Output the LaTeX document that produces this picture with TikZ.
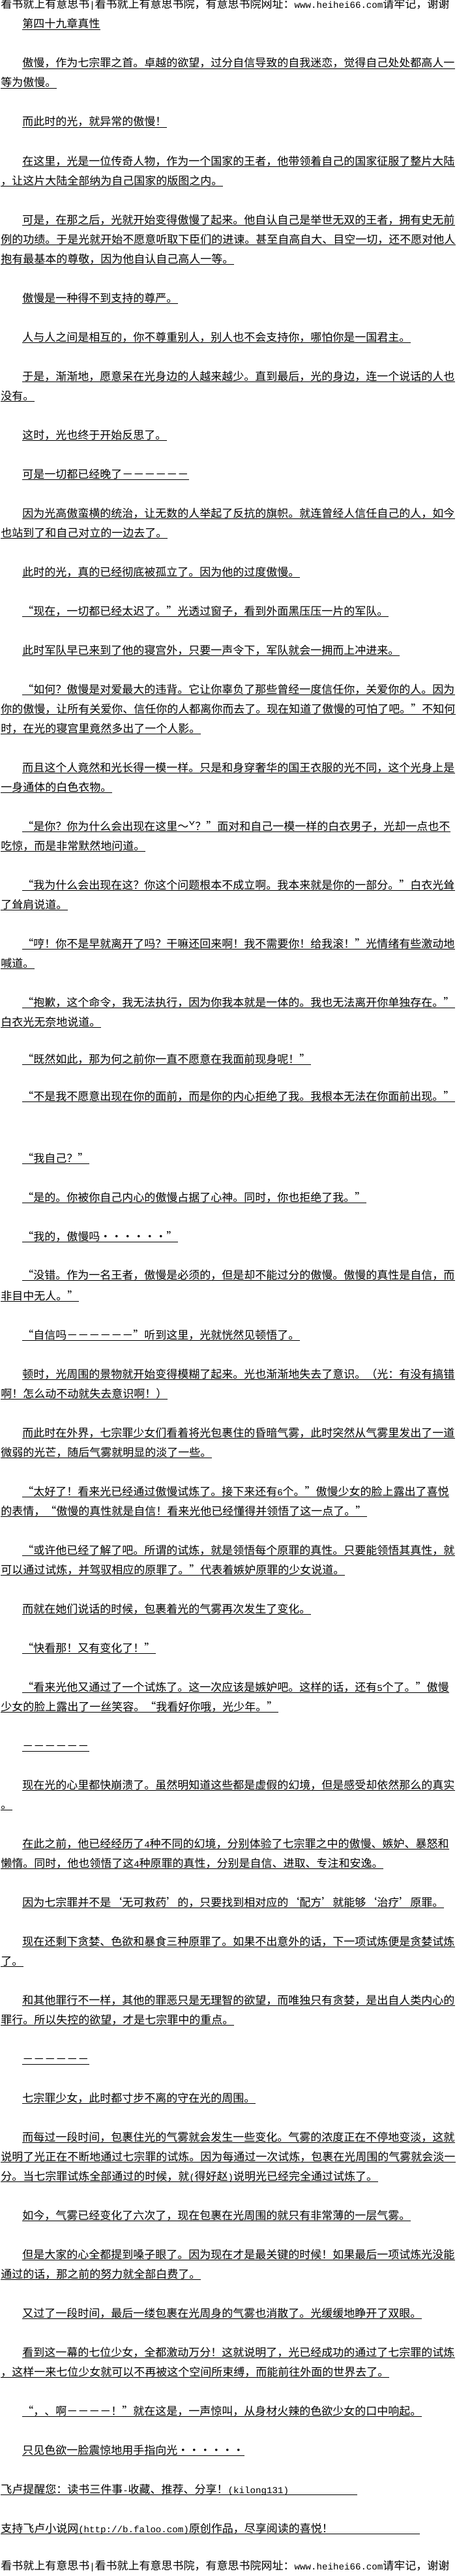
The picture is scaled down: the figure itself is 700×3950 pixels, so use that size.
\documentclass[tikz,border=0pt]{standalone}
\usepackage{fontspec}
\newfontfamily\cjk{Noto Sans CJK SC}
\newfontfamily\halfw{Liberation Mono}
\newcommand{\hw}[1]{{\halfw\fontsize{10.6}{15}\selectfont #1}}

\begin{document}
\begin{tikzpicture}[x=0.75pt,y=-0.75pt,
    txt/.style={anchor=base west,inner sep=0pt,text depth=1.5pt,font=\cjk\fontsize{12.75}{15}\selectfont},
    uline/.style={line width=0.75pt}]
            \fill[white] (0,0) rectangle (700,3950);
            \useasboundingbox (0,0) rectangle (700,3950);
            \node[txt] (head) at (1,13) {看书就上有意思书\hw{|}看书就上有意思书院，有意思书院网址：\hw{www.heihei66.com}请牢记，谢谢};
            \node[txt] (title) at (34,43) {第四十九章真性};
            \node[txt] (p1a) at (34,103) {傲慢，作为七宗罪之首。卓越的欲望，过分自信导致的自我迷恋，觉得自己处处都高人一};
            \node[txt] (p1b) at (1,133) {等为傲慢。};
            \node[txt] (p2) at (34,193) {而此时的光，就异常的傲慢！};
            \node[txt] (p3a) at (34,253) {在这里，光是一位传奇人物，作为一个国家的王者，他带领着自己的国家征服了整片大陆};
            \node[txt] (p3b) at (1,283) {，让这片大陆全部纳为自己国家的版图之内。};
            \node[txt] (p4a) at (34,343) {可是，在那之后，光就开始变得傲慢了起来。他自认自己是举世无双的王者，拥有史无前};
            \node[txt] (p4b) at (1,373) {例的功绩。于是光就开始不愿意听取下臣们的进谏。甚至自高自大、目空一切，还不愿对他人};
            \node[txt] (p4c) at (1,403) {抱有最基本的尊敬，因为他自认自己高人一等。};
            \node[txt] (p5) at (34,463) {傲慢是一种得不到支持的尊严。};
            \node[txt] (p6) at (34,523) {人与人之间是相互的，你不尊重别人，别人也不会支持你，哪怕你是一国君主。};
            \node[txt] (p7a) at (34,583) {于是，渐渐地，愿意呆在光身边的人越来越少。直到最后，光的身边，连一个说话的人也};
            \node[txt] (p7b) at (1,613) {没有。};
            \node[txt] (p8) at (34,673) {这时，光也终于开始反思了。};
            \node[txt] (p9) at (34,733) {可是一切都已经晚了－－－－－－};
            \node[txt] (p10a) at (34,793) {因为光高傲蛮横的统治，让无数的人举起了反抗的旗帜。就连曾经人信任自己的人，如今};
            \node[txt] (p10b) at (1,823) {也站到了和自己对立的一边去了。};
            \node[txt] (p11) at (34,883) {此时的光，真的已经彻底被孤立了。因为他的过度傲慢。};
            \node[txt] (p12) at (34,943) {“现在，一切都已经太迟了。”光透过窗子，看到外面黑压压一片的军队。};
            \node[txt] (p13) at (34,1003) {此时军队早已来到了他的寝宫外，只要一声令下，军队就会一拥而上冲进来。};
            \node[txt] (p14a) at (34,1063) {“如何？傲慢是对爱最大的违背。它让你辜负了那些曾经一度信任你，关爱你的人。因为};
            \node[txt] (p14b) at (1,1093) {你的傲慢，让所有关爱你、信任你的人都离你而去了。现在知道了傲慢的可怕了吧。”不知何};
            \node[txt] (p14c) at (1,1123) {时，在光的寝宫里竟然多出了一个人影。};
            \node[txt] (p15a) at (34,1183) {而且这个人竟然和光长得一模一样。只是和身穿奢华的国王衣服的光不同，这个光身上是};
            \node[txt] (p15b) at (1,1213) {一身通体的白色衣物。};
            \node[txt] (p16a) at (34,1273) {“是你？你为什么会出现在这里～ˇ？”面对和自己一模一样的白衣男子，光却一点也不};
            \node[txt] (p16b) at (1,1303) {吃惊，而是非常默然地问道。};
            \node[txt] (p17a) at (34,1363) {“我为什么会出现在这？你这个问题根本不成立啊。我本来就是你的一部分。”白衣光耸};
            \node[txt] (p17b) at (1,1393) {了耸肩说道。};
            \node[txt] (p18a) at (34,1453) {“哼！你不是早就离开了吗？干嘛还回来啊！我不需要你！给我滚！”光情绪有些激动地};
            \node[txt] (p18b) at (1,1483) {喊道。};
            \node[txt] (p19a) at (34,1543) {“抱歉，这个命令，我无法执行，因为你我本就是一体的。我也无法离开你单独存在。”};
            \node[txt] (p19b) at (1,1573) {白衣光无奈地说道。};
            \node[txt] (p20) at (34,1630) {“既然如此，那为何之前你一直不愿意在我面前现身呢！”};
            \node[txt] (p21) at (34,1687) {“不是我不愿意出现在你的面前，而是你的内心拒绝了我。我根本无法在你面前出现。”};
            \node[txt] (p22) at (34,1782) {“我自己？”};
            \node[txt] (p23) at (34,1842) {“是的。你被你自己内心的傲慢占据了心神。同时，你也拒绝了我。”};
            \node[txt] (p24) at (34,1902) {“我的，傲慢吗・・・・・・”};
            \node[txt] (p25a) at (34,1961) {“没错。作为一名王者，傲慢是必须的，但是却不能过分的傲慢。傲慢的真性是自信，而};
            \node[txt] (p25b) at (1,1993) {非目中无人。”};
            \node[txt] (p26) at (34,2053) {“自信吗－－－－－－”听到这里，光就恍然见顿悟了。};
            \node[txt] (p27a) at (34,2113) {顿时，光周围的景物就开始变得模糊了起来。光也渐渐地失去了意识。（光：有没有搞错};
            \node[txt] (p27b) at (1,2143) {啊！怎么动不动就失去意识啊！）};
            \node[txt] (p28a) at (34,2203) {而此时在外界，七宗罪少女们看着将光包裹住的昏暗气雾，此时突然从气雾里发出了一道};
            \node[txt] (p28b) at (1,2233) {微弱的光芒，随后气雾就明显的淡了一些。};
            \node[txt] (p29a) at (34,2293) {“太好了！看来光已经通过傲慢试炼了。接下来还有\hw{6}个。”傲慢少女的脸上露出了喜悦};
            \node[txt] (p29b) at (1,2323) {的表情，“傲慢的真性就是自信！看来光他已经懂得并领悟了这一点了。”};
            \node[txt] (p30a) at (34,2383) {“或许他已经了解了吧。所谓的试炼，就是领悟每个原罪的真性。只要能领悟其真性，就};
            \node[txt] (p30b) at (1,2413) {可以通过试炼，并驾驭相应的原罪了。”代表着嫉妒原罪的少女说道。};
            \node[txt] (p31) at (34,2473) {而就在她们说话的时候，包裹着光的气雾再次发生了变化。};
            \node[txt] (p32) at (34,2533) {“快看那！又有变化了！”};
            \node[txt] (p33a) at (34,2593) {“看来光他又通过了一个试炼了。这一次应该是嫉妒吧。这样的话，还有\hw{5}个了。”傲慢};
            \node[txt] (p33b) at (1,2623) {少女的脸上露出了一丝笑容。“我看好你哦，光少年。”};
            \node[txt] (p34) at (34,2683) {－－－－－－};
            \node[txt] (p35a) at (34,2743) {现在光的心里都快崩溃了。虽然明知道这些都是虚假的幻境，但是感受却依然那么的真实};
            \node[txt] (p35b) at (1,2773) {。};
            \node[txt] (p36a) at (34,2833) {在此之前，他已经经历了\hw{4}种不同的幻境，分别体验了七宗罪之中的傲慢、嫉妒、暴怒和};
            \node[txt] (p36b) at (1,2863) {懒惰。同时，他也领悟了这\hw{4}种原罪的真性，分别是自信、进取、专注和安逸。};
            \node[txt] (p37) at (34,2923) {因为七宗罪并不是‘无可救药’的，只要找到相对应的‘配方’就能够‘治疗’原罪。};
            \node[txt] (p38a) at (34,2983) {现在还剩下贪婪、色欲和暴食三种原罪了。如果不出意外的话，下一项试炼便是贪婪试炼};
            \node[txt] (p38b) at (1,3013) {了。};
            \node[txt] (p39a) at (34,3073) {和其他罪行不一样，其他的罪恶只是无理智的欲望，而唯独只有贪婪，是出自人类内心的};
            \node[txt] (p39b) at (1,3103) {罪行。所以失控的欲望，才是七宗罪中的重点。};
            \node[txt] (p40) at (34,3163) {－－－－－－};
            \node[txt] (p41) at (34,3223) {七宗罪少女，此时都寸步不离的守在光的周围。};
            \node[txt] (p42a) at (34,3283) {而每过一段时间，包裹住光的气雾就会发生一些变化。气雾的浓度正在不停地变淡，这就};
            \node[txt] (p42b) at (1,3313) {说明了光正在不断地通过七宗罪的试炼。因为每通过一次试炼，包裹在光周围的气雾就会淡一};
            \node[txt] (p42c) at (1,3343) {分。当七宗罪试炼全部通过的时候，就\hw{(}得好赵\hw{)}说明光已经完全通过试炼了。};
            \node[txt] (p43) at (34,3403) {如今，气雾已经变化了六次了，现在包裹在光周围的就只有非常薄的一层气雾。};
            \node[txt] (p44a) at (34,3463) {但是大家的心全都提到嗓子眼了。因为现在才是最关键的时候！如果最后一项试炼光没能};
            \node[txt] (p44b) at (1,3493) {通过的话，那之前的努力就全部白费了。};
            \node[txt] (p45) at (34,3553) {又过了一段时间，最后一缕包裹在光周身的气雾也消散了。光缓缓地睁开了双眼。};
            \node[txt] (p46a) at (34,3613) {看到这一幕的七位少女，全都激动万分！这就说明了，光已经成功的通过了七宗罪的试炼};
            \node[txt] (p46b) at (1,3643) {，这样一来七位少女就可以不再被这个空间所束缚，而能前往外面的世界去了。};
            \node[txt] (p47) at (34,3703) {“，、啊－－－－！”就在这是，一声惊叫，从身材火辣的色欲少女的口中响起。};
            \node[txt] (p48) at (34,3763) {只见色欲一脸震惊地用手指向光・・・・・・};
            \node[txt] (f1) at (1,3823) {飞卢提醒您：读书三件事\hw{-}收藏、推荐、分享！\hw{(kilong131)}};
            \node[txt] (f2) at (1,3883) {支持飞卢小说网\hw{(http://b.faloo.com)}原创作品，尽享阅读的喜悦！};
            \node[txt] (foot) at (1,3940) {看书就上有意思书\hw{|}看书就上有意思书院，有意思书院网址：\hw{www.heihei66.com}请牢记，谢谢};
            \foreach \n in {title,p1a,p1b,p2,p3a,p3b,p4a,p4b,p4c,p5,p6,p7a,p7b,p8,p9,p10a,p10b,p11,p12,p13,
                p14a,p14b,p14c,p15a,p15b,p16a,p16b,p17a,p17b,p18a,p18b,p19a,p19b,p20,p21,p22,p23,p24,p25a,p25b,
                p26,p27a,p27b,p28a,p28b,p29a,p29b,p30a,p30b,p31,p32,p33a,p33b,p34,p35a,p35b,p36a,p36b,p37,
                p38a,p38b,p39a,p39b,p40,p41,p42a,p42b,p42c,p43,p44a,p44b,p45,p46a,p46b,p47,p48}{
                \draw[uline] (\n.south west)--(\n.south east);
            }
            \coordinate (f1end) at (548,3825);
            \coordinate (f2end) at (644,3885);
            \draw[uline] (f1.south west)--(f1.south west -| f1end);
            \draw[uline] (f2.south west)--(f2.south west -| f2end);
        \end{tikzpicture}
\end{document}
